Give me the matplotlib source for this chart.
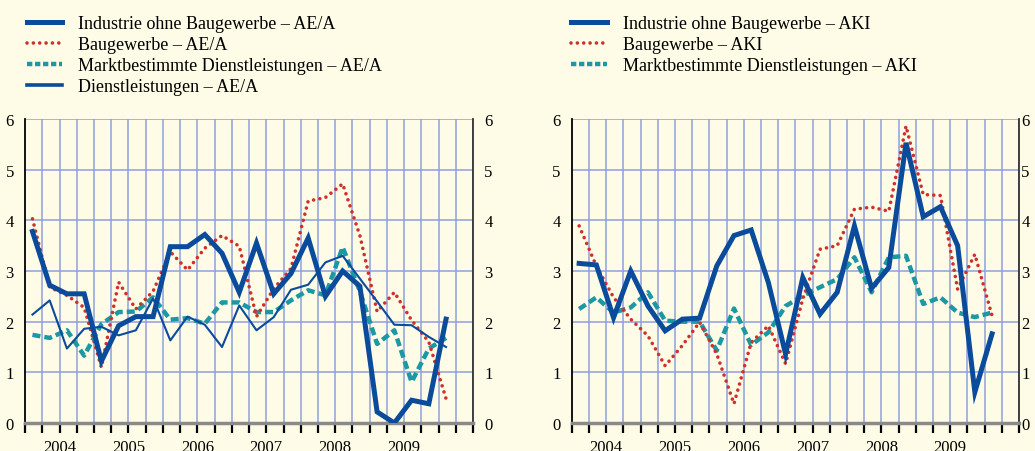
import matplotlib
matplotlib.use("Agg")
import matplotlib.pyplot as plt
from matplotlib.lines import Line2D

plt.rcParams['font.family'] = ['Liberation Serif', 'DejaVu Serif']

quarters = list(range(25))  # 2004Q1 .. 2010Q1
years = ["2004", "2005", "2006", "2007", "2008", "2009"]

# Left panel: AE/A
ind_aea = [3.78, 2.72, 2.55, 2.55, 1.22, 1.92, 2.10, 2.10, 3.48, 3.48, 3.72, 3.35, 2.58,
           3.55, 2.55, 2.95, 3.65, 2.50, 3.00, 2.70, 0.22, 0.00, 0.45, 0.38, 2.05]
bau_aea = [4.03, 2.68, 2.52, 2.28, 1.10, 2.78, 2.25, 2.60, 3.38, 3.02, 3.45, 3.70, 3.49,
           2.10, 2.65, 3.05, 4.38, 4.45, 4.72, 3.70, 2.20, 2.58, 2.03, 1.60, 0.48]
mdl_aea = [1.74, 1.68, 1.83, 1.33, 1.95, 2.19, 2.20, 2.48, 2.04, 2.07, 1.96, 2.38, 2.38,
           2.19, 2.19, 2.42, 2.62, 2.52, 3.47, 2.60, 1.56, 1.83, 0.81, 1.47, 1.68]
dl_aea = [2.14, 2.42, 1.47, 1.86, 1.90, 1.73, 1.83, 2.46, 1.63, 2.10, 1.94, 1.50, 2.32,
          1.83, 2.09, 2.63, 2.73, 3.17, 3.30, 2.85, 2.40, 1.94, 1.93, 1.70, 1.50]

# Right panel: AKI
ind_aki = [3.15, 3.12, 2.08, 3.00, 2.31, 1.82, 2.05, 2.07, 3.10, 3.70, 3.81, 2.77, 1.36,
           2.87, 2.15, 2.58, 3.89, 2.66, 3.07, 5.53, 4.07, 4.27, 3.50, 0.61, 1.76]
bau_aki = [3.89, 3.10, 2.48, 2.05, 1.72, 1.13, 1.53, 1.99, 1.36, 0.38, 1.59, 1.92, 1.17,
           2.45, 3.43, 3.50, 4.22, 4.26, 4.18, 5.86, 4.51, 4.49, 2.64, 3.33, 2.12]
mdl_aki = [2.25, 2.48, 2.18, 2.28, 2.58, 2.02, 2.00, 2.00, 1.43, 2.26, 1.54, 1.79, 2.31,
           2.51, 2.68, 2.84, 3.27, 2.58, 3.27, 3.30, 2.35, 2.48, 2.18, 2.09, 2.18]

labels_left = ["Industrie ohne Baugewerbe \u2013 AE/A", "Baugewerbe \u2013 AE/A",
               "Marktbestimmte Dienstleistungen \u2013 AE/A", "Dienstleistungen \u2013 AE/A"]
labels_right = ["Industrie ohne Baugewerbe \u2013 AKI", "Baugewerbe \u2013 AKI",
                "Marktbestimmte Dienstleistungen \u2013 AKI"]

BG = "#FEFBE6"
BLUE = "#0A4B9B"
RED = "#D0302A"
TEAL = "#1B98A3"
GRID = "#8FA0DC"

fig = plt.figure(figsize=(10.35, 4.52), dpi=100, facecolor=BG)

xpos = [q + 0.43 for q in quarters]

styles = {
    "thick": dict(color=BLUE, lw=3.6, solid_joinstyle='miter', zorder=5),
    "thin": dict(color=BLUE, lw=1.5, zorder=4),
    "dot": dict(color=RED, lw=2.6, linestyle=(0, (0.01, 1.75)), dash_capstyle='round', zorder=3),
    "dash": dict(color=TEAL, lw=3.2, linestyle=(0, (1.8, 0.9)), zorder=2),
}


def setup(ax, rpad):
    ax.set_facecolor(BG)
    ax.set_xlim(0, 26)
    ax.set_ylim(0, 6)
    ax.set_yticks(range(7))
    ax.xaxis.remove_overlapping_locs = False
    ax.set_xticks(range(27))
    ax.set_xticklabels([])
    ax.set_xticks([2 + 4 * i for i in range(6)], minor=True)
    ax.set_xticklabels(years, minor=True)
    ax.tick_params(axis='x', which='major', direction='out', length=7, width=1.6,
                   color='black', bottom=True)
    ax.tick_params(axis='x', which='minor', length=0, pad=11.5, labelsize=12)
    ax.tick_params(axis='y', length=0, labelsize=12, pad=8, left=True, right=True,
                   labelleft=True, labelright=True)
    for v in range(1, 27):
        ax.axvline(v, color=GRID, lw=1.1, zorder=1)
    for h in range(1, 7):
        ax.axhline(h, color=GRID, lw=1.1, zorder=1)
    ax.spines['top'].set_visible(False)
    ax.spines['left'].set_color('black')
    ax.spines['left'].set_linewidth(1.3)
    ax.spines['right'].set_color('#333333')
    ax.spines['right'].set_linewidth(1.3)
    ax.spines['bottom'].set_color('#8a8a8a')
    ax.spines['bottom'].set_linewidth(2.5)
    if rpad is not None:
        ax2 = ax.secondary_yaxis('right')
        ax2.set_yticks(range(7))
        ax2.tick_params(length=0, labelsize=12, pad=rpad)
        ax2.spines['right'].set_visible(False)
        ax.tick_params(axis='y', labelright=False)


axL = fig.add_axes([0.0242, 0.0619, 0.4329, 0.6726])
axR = fig.add_axes([0.5524, 0.0619, 0.4322, 0.6726])
setup(axL, None)
setup(axR, 1.5)

axL.plot(xpos, mdl_aea, **styles["dash"])
axL.plot(xpos, bau_aea, **styles["dot"])
axL.plot(xpos, dl_aea, **styles["thin"])
axL.plot(xpos, ind_aea, **styles["thick"])

axR.plot(xpos, mdl_aki, **styles["dash"])
axR.plot(xpos, bau_aki, **styles["dot"])
axR.plot(xpos, ind_aki, **styles["thick"])

hl = [Line2D([], [], color=BLUE, lw=3.6),
      Line2D([], [], color=RED, lw=2.6, linestyle=(0, (0.01, 1.75)), dash_capstyle='round'),
      Line2D([], [], color=TEAL, lw=3.2, linestyle=(0, (1.2, 0.6))),
      Line2D([], [], color=BLUE, lw=2.6)]

legkw = dict(loc='upper left', frameon=False, fontsize=13, handlelength=1.95,
             handletextpad=0.9, labelspacing=0.22, borderaxespad=0, borderpad=0)
fig.legend(hl, labels_left, bbox_to_anchor=(0.026, 0.964), **legkw)
fig.legend(hl[:3], labels_right, bbox_to_anchor=(0.552, 0.964), **legkw)

fig.savefig("out.png", dpi=100, facecolor=BG)
